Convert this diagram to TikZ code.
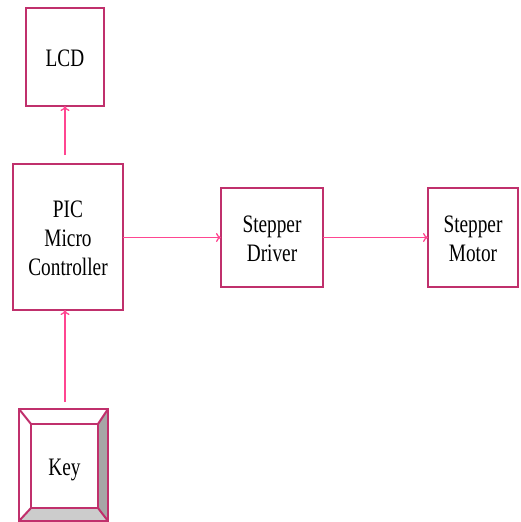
\documentclass[tikz,border=0pt]{standalone}
\usepackage{fontspec}
\setmainfont{Liberation Serif}
\usetikzlibrary{arrows.meta}
\definecolor{boxc}{RGB}{192,48,108}
\definecolor{arrc}{RGB}{255,70,145}
\definecolor{bevdark}{RGB}{166,166,166}
\definecolor{bevlight}{RGB}{204,204,204}
\newcommand{\blocktext}[1]{\raisebox{-3.5pt}[\height][\depth]{\scalebox{1}[1.3]{\fontsize{19.3}{22.3}\selectfont\begin{tabular}{@{}c@{}}#1\end{tabular}}}}
\tikzset{
  blockbox/.style={draw=boxc, line width=2.5pt, fill=white, inner sep=0pt, outer sep=0pt},
  arr/.style={draw=arrc, line width=1.3pt, -{To[length=5pt,width=9pt]}},
}
\begin{document}
\begin{tikzpicture}[x=1pt,y=-1pt]
\useasboundingbox (0,0) rectangle (520,522);
\node[blockbox, minimum width=78pt, minimum height=98pt] (lcd) at (65,57) {\blocktext{LCD}};
\node[blockbox, minimum width=110pt, minimum height=146pt] (pic) at (68,237) {\blocktext{PIC\\Micro\\Controller}};
\node[blockbox, minimum width=102pt, minimum height=99pt] (drv) at (272,237.5) {\blocktext{Stepper\\Driver}};
\node[blockbox, minimum width=90pt, minimum height=99pt] (mot) at (473,237.5) {\blocktext{Stepper\\Motor}};
% key with bevels
\node[inner sep=0pt, outer sep=0pt, minimum width=89pt, minimum height=112pt] (keyo) at (63.5,465) {};
\fill[white] (keyo.north west) -- (keyo.north east) -- (98,424) -- (31,424) -- cycle;
\fill[white] (keyo.north west) -- (31,424) -- (31,508) -- (keyo.south west) -- cycle;
\fill[bevdark] (keyo.north east) -- (98,424) -- (98,508) -- (keyo.south east) -- cycle;
\fill[bevlight] (keyo.south west) -- (31,508) -- (98,508) -- (keyo.south east) -- cycle;
\node[blockbox, minimum width=67pt, minimum height=84pt] (keyi) at (64.5,466) {\blocktext{Key}};
\draw[boxc, line width=2.5pt] (keyo.north west) rectangle (keyo.south east);
\draw[boxc, line width=2pt] (keyo.north west) -- (keyi.north west)
  (keyo.north east) -- (keyi.north east)
  (keyo.south west) -- (keyi.south west)
  (keyo.south east) -- (keyi.south east);
% connectors
\coordinate (picup) at ([yshift=9pt]pic.north -| lcd.south);
\coordinate (keyup) at ([yshift=7pt]keyo.north -| lcd.south);
\draw[arr] (picup) -- (lcd.south);
\draw[arr] (keyup) -- (keyup |- pic.south);
\draw[arr] (pic.east |- drv.west) -- (drv.west);
\draw[arr] (drv.east) -- (mot.west);
\end{tikzpicture}
\end{document}
